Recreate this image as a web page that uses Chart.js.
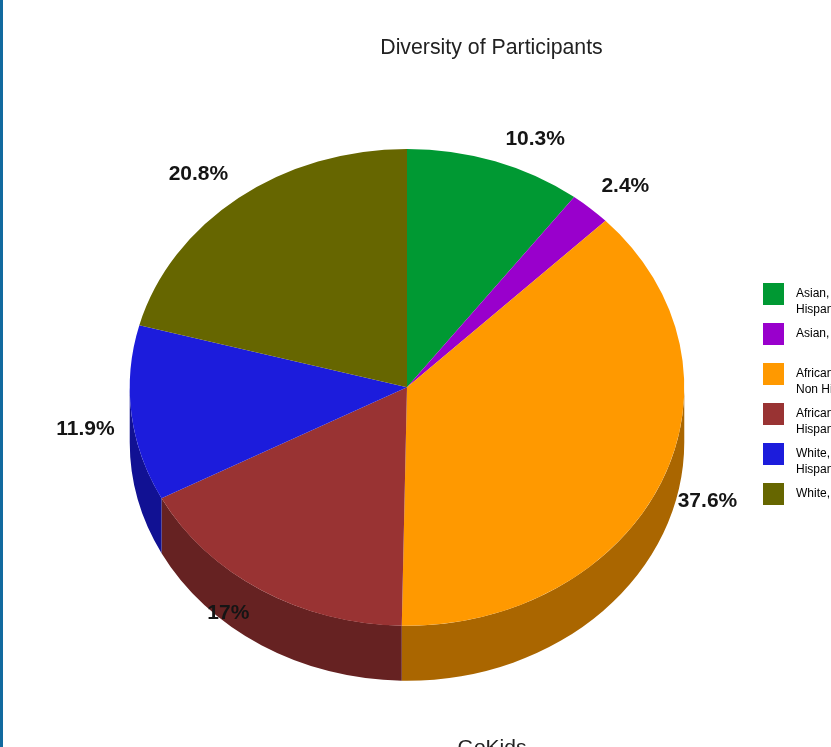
<!DOCTYPE html>
<html>
<head>
<meta charset="utf-8">
<title>Diversity of Participants</title>
<script src="https://cdn.jsdelivr.net/npm/chart.js@4/dist/chart.umd.js"></script>
<style>
  html, body { margin: 0; padding: 0; width: 831px; height: 747px; overflow: hidden; background: #fff; }
  #wrap { position: relative; width: 831px; height: 747px; overflow: hidden; }
  #edge { position: absolute; left: 0; top: 0; width: 3px; height: 747px; background: #116a9f; }
  canvas { position: absolute; left: 0; top: 0; }
</style>
</head>
<body>
<div id="wrap">
  <canvas id="chart" width="982" height="747" style="width:982px;height:747px"></canvas>
  <div id="edge"></div>
</div>
<script>
// Participant breakdown, in percent
const categories = [
  "Asian, Hispanic",
  "Asian, Non Hispanic",
  "African American, Non Hispanic",
  "African American, Hispanic",
  "White, Hispanic",
  "White, Non Hispanic"
];
const shares = [10.3, 2.4, 37.6, 17, 11.9, 20.8];
const legendLines = [
  ["Asian,", "Hispanic"],
  ["Asian, Non Hispanic", ""],
  ["African American,", "Non Hispanic"],
  ["African American,", "Hispanic"],
  ["White,", "Hispanic"],
  ["White, Non Hispanic", ""]
];
const topColors = ["#009933", "#9900cc", "#ff9900", "#993333", "#1c1cdc", "#666600"];
const sideColors = ["#006622", "#660088", "#aa6600", "#662222", "#111193", "#444400"];

const FONT = '"Liberation Sans", Arial, sans-serif';
const TILT = 0.86;      // vertical squash of the disc
const DEPTH = 55;       // height of the rim in pixels
const INK = "#222222";

// Tilts the disc and paints its rim below the top face
const tiltedDisc = {
  id: "tiltedDisc",
  beforeDatasetsDraw(chart) {
    const ctx = chart.ctx;
    const arcs = chart.getDatasetMeta(0).data;
    const cy = arcs[0].y;
    ctx.save();
    ctx.translate(0, cy);
    ctx.scale(1, TILT);
    ctx.translate(0, -cy);
    const d = DEPTH / TILT;
    arcs.forEach((arc, i) => {
      // only the part of a slice on the near half of the disc shows a wall
      const from = Math.max(arc.startAngle, 0);
      const to = Math.min(arc.endAngle, Math.PI);
      if (to <= from) return;
      ctx.beginPath();
      ctx.arc(arc.x, arc.y + d, arc.outerRadius, from, to);
      ctx.arc(arc.x, arc.y, arc.outerRadius, to, from, true);
      ctx.closePath();
      ctx.fillStyle = sideColors[i];
      ctx.fill();
    });
  },
  afterDatasetsDraw(chart) {
    chart.ctx.restore();
  }
};

// Percent labels set just outside the rim of each slice
const sliceLabels = {
  id: "sliceLabels",
  afterDatasetsDraw(chart, args, opts) {
    const ctx = chart.ctx;
    ctx.save();
    ctx.font = "bold 21px " + FONT;
    ctx.fillStyle = "#151515";
    ctx.textAlign = "center";
    ctx.textBaseline = "middle";
    chart.getDatasetMeta(0).data.forEach((arc, i) => {
      const mid = (arc.startAngle + arc.endAngle) / 2;
      const x = arc.x + arc.outerRadius * Math.cos(mid);
      const y = arc.y + TILT * arc.outerRadius * Math.sin(mid);
      ctx.fillText(shares[i] + "%", x + opts.offsets[i][0], y + opts.offsets[i][1]);
    });
    ctx.restore();
  }
};

// Moves the title, caption and legend to their spots once the pie is sized
const placement = {
  id: "placement",
  afterLayout(chart) {
    const shift = (box, left, top) => {
      const w = box.right - box.left, h = box.bottom - box.top;
      box.left = left; box.right = left + w;
      box.top = top; box.bottom = top + h;
    };
    const t = chart.titleBlock;
    shift(t, 491.5 - (t.right - t.left) / 2, 35);
    const s = chart.boxes.find(b => b !== t && b.position === "bottom");
    shift(s, 492 - (s.right - s.left) / 2, 736);
    shift(chart.legend, 755, 275);
  }
};

new Chart(document.getElementById("chart"), {
  type: "pie",
  data: {
    labels: categories,
    datasets: [{
      data: shares,
      backgroundColor: topColors,
      borderWidth: 0,
      hoverOffset: 0
    }]
  },
  plugins: [tiltedDisc, sliceLabels, placement],
  options: {
    responsive: false,
    animation: false,
    events: [],
    layout: { padding: { left: 129.5, right: 297.5, top: 84.5, bottom: 57.2 } },
    plugins: {
      title: {
        display: true,
        text: "Diversity of Participants",
        color: INK,
        padding: 0,
        font: { family: FONT, size: 21.3, weight: "normal", lineHeight: 1.2 }
      },
      subtitle: {
        display: true,
        text: "GoKids",
        color: INK,
        position: "bottom",
        padding: 0,
        font: { family: FONT, size: 21, weight: "normal", lineHeight: 1.2 }
      },
      legend: {
        display: true,
        position: "chartArea",
        align: "start",
        labels: {
          boxWidth: 21,
          boxHeight: 22,
          padding: 8,
          color: INK,
          font: { family: FONT, size: 12, lineHeight: 1.333 },
          // en space keeps the text clear of the colour swatch
          generateLabels: () => legendLines.map((lines, i) => ({
            text: lines.map(l => l ? "\u2002" + l : l),
            fillStyle: topColors[i],
            strokeStyle: topColors[i],
            lineWidth: 0,
            index: i
          }))
        }
      },
      tooltip: { enabled: false },
      sliceLabels: {
        offsets: [[40, -22], [35, -22], [46, 19], [-33, 23], [-46, 16], [-40, -24]]
      }
    }
  }
});
</script>
</body>
</html>
